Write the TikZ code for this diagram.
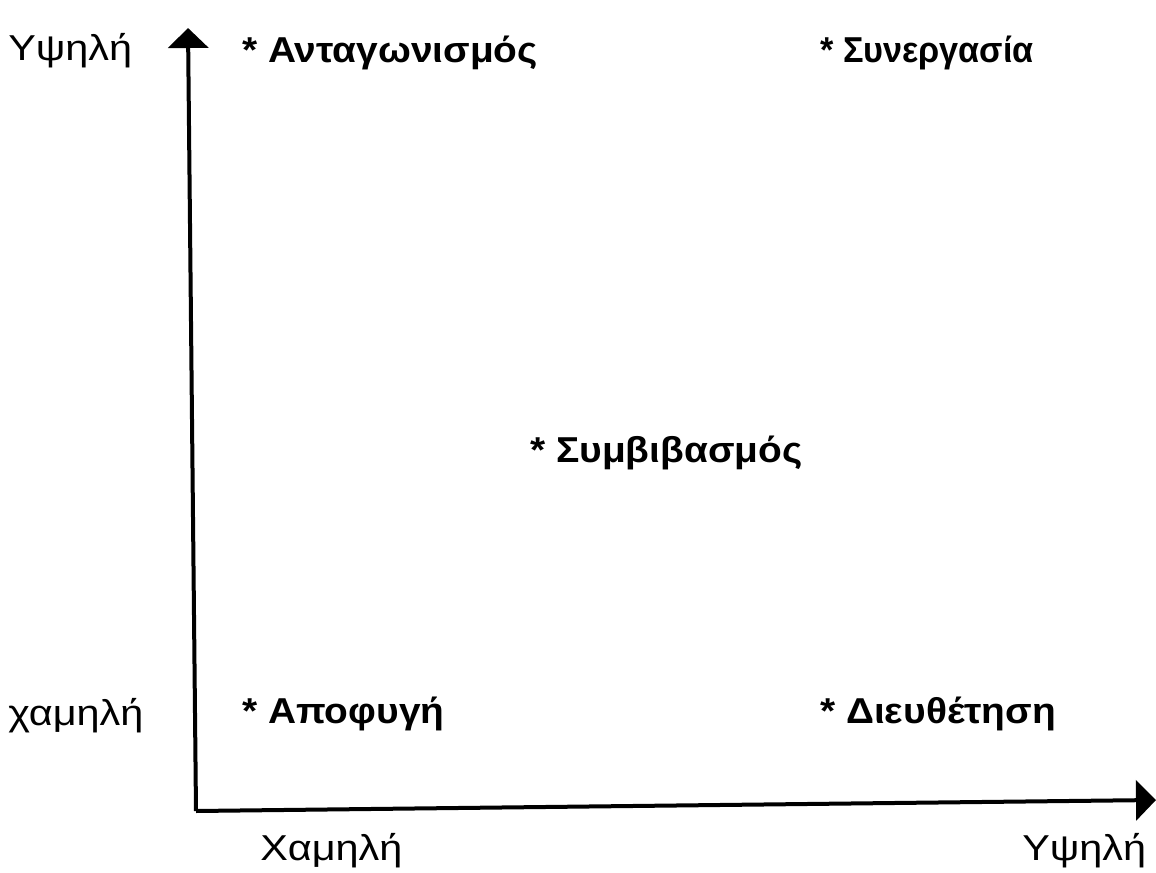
\documentclass[tikz,border=0pt]{standalone}
\usepackage{fontspec}
\setmainfont[FakeStretch=1.15]{Liberation Sans}
\newfontfamily\modefont[FakeStretch=1.08]{Liberation Sans Bold}
\newfontfamily\modefontnarrow[FakeStretch=0.95]{Liberation Sans Bold}
\usetikzlibrary{arrows.meta}
\tikzset{
  axis/.style={line width=3pt, -{Triangle[width=30pt,length=15pt]}},
  level/.style={anchor=base west, inner sep=0pt, font=\fontsize{27}{30}\selectfont},
  mode/.style={anchor=base west, inner sep=0pt, font=\fontsize{27}{30}\modefont},
  narrowmode/.style={mode, font=\fontsize{27}{30}\modefontnarrow},
}
\begin{document}
\begin{tikzpicture}[x=0.75pt, y=-0.75pt]
\useasboundingbox (0,0) rectangle (1156,873);
% axes
\coordinate (o) at (196,811);
\coordinate (ytop) at (188,28);
\coordinate (xend) at (1156,800);
\draw[axis] (o) -- (ytop);
\draw[axis] (o) -- (xend);
% axis levels
\node[level] (yhigh) at (8,61) {Υψηλή};
\node[level] (ylow) at (8,725) {χαμηλή};
\node[level] (xlow) at (260,860) {Χαμηλή};
\node[level] (xhigh) at (1022,860) {Υψηλή};
% conflict handling modes
\node[mode] (comp) at (242,63) {* Ανταγωνισμός};
\node[narrowmode] (coll) at (820,63) {* Συνεργασία};
\node[mode] (comprom) at (530,462) {* Συμβιβασμός};
\node[mode] (avoid) at (242,723) {* Αποφυγή};
\node[mode] (accom) at (820,723) {* Διευθέτηση};
\end{tikzpicture}
\end{document}
